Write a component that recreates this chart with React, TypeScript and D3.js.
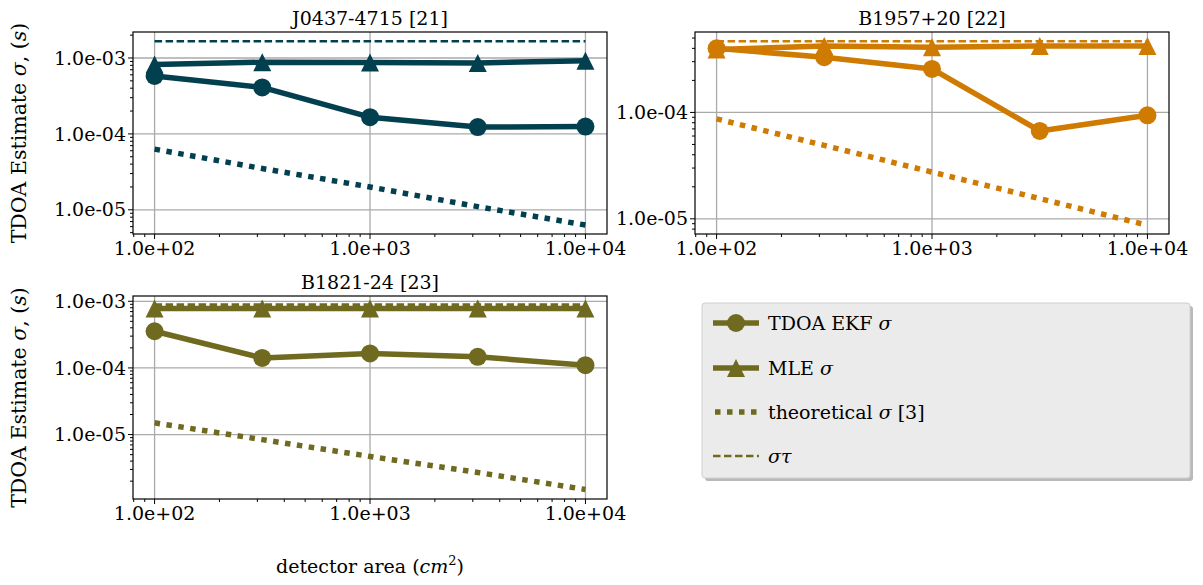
import React from 'react';
import * as d3 from 'd3';

const width = 1203;
const height = 585;
const font = '"DejaVu Serif", serif';
const fs = 19;

const teal = '#02404f';
const orange = '#cf7a00';
const olive = '#6f6a1f';

// detector areas (cm^2)
const areas = [100, 316, 1000, 3162, 10000];
const xDomain = [79.4, 12590];

// J0437-4715
const j0437Ekf = [5.8e-4, 4.1e-4, 1.66e-4, 1.23e-4, 1.25e-4];
const j0437Mle = [8.2e-4, 8.8e-4, 8.7e-4, 8.6e-4, 9.2e-4];
const j0437Theory = [6.3e-5, 3.5e-5, 2.0e-5, 1.1e-5, 6.3e-6];
const j0437Tau = [1.66e-3, 1.66e-3, 1.66e-3, 1.66e-3, 1.66e-3];

// B1957+20
const b1957Ekf = [4.0e-4, 3.3e-4, 2.56e-4, 6.7e-5, 9.4e-5];
const b1957Mle = [3.9e-4, 4.2e-4, 4.1e-4, 4.2e-4, 4.2e-4];
const b1957Theory = [8.7e-5, 4.9e-5, 2.75e-5, 1.55e-5, 8.7e-6];
const b1957Tau = [4.67e-4, 4.67e-4, 4.67e-4, 4.67e-4, 4.67e-4];

// B1821-24
const b1821Ekf = [3.55e-4, 1.41e-4, 1.65e-4, 1.47e-4, 1.1e-4];
const b1821Mle = [7.8e-4, 7.8e-4, 7.8e-4, 7.8e-4, 7.8e-4];
const b1821Theory = [1.5e-5, 8.4e-6, 4.7e-6, 2.7e-6, 1.5e-6];
const b1821Tau = [8.9e-4, 8.9e-4, 8.9e-4, 8.9e-4, 8.9e-4];

const legendLabels = ['TDOA EKF', 'MLE', 'theoretical', 'στ'];

const fmt = (v: number) => {
  const [m, e] = v.toExponential(1).split('e');
  const sign = e[0] === '-' ? '-' : '+';
  const digits = e.replace(/[+-]/, '').padStart(2, '0');
  return `${m}e${sign}${digits}`;
};

const isMajor = (v: number) => Math.abs(Math.log10(v) - Math.round(Math.log10(v))) < 1e-9;

const triangle = (cx: number, cy: number, s: number) =>
  `M${cx},${cy - s / 2}L${cx + s / 2},${cy + s / 2}L${cx - s / 2},${cy + s / 2}Z`;

const lw = 5.5;
const markerR = 9;
const triSize = 18;
const dotted = '5.5 6.5';
const dashed = '7.5 3.5';

function Panel(props: any) {
  const { title, color, ekf, mle, theory, tau, yDomain, left, top, w, h, yLabel } = props;
  const x = d3.scaleLog().domain(xDomain).range([left, left + w]);
  const y = d3.scaleLog().domain(yDomain).range([top + h, top]);
  const line = d3.line<number>().x((_, i) => x(areas[i])).y(d => y(d));
  const xt = x.ticks();
  const yt = y.ticks();
  const bottom = top + h;

  return (
    <g>
      {/* grid */}
      {xt.filter(isMajor).map(t => (
        <line key={'gx' + t} x1={x(t)} x2={x(t)} y1={top} y2={bottom} stroke="#aaaaaa" strokeWidth={1.3} />
      ))}
      {yt.filter(isMajor).map(t => (
        <line key={'gy' + t} x1={left} x2={left + w} y1={y(t)} y2={y(t)} stroke="#aaaaaa" strokeWidth={1.3} />
      ))}

      {/* EKF */}
      <path d={line(ekf) || ''} fill="none" stroke={color} strokeWidth={lw} strokeLinejoin="round" />
      {ekf.map((d: number, i: number) => (
        <circle key={'c' + i} cx={x(areas[i])} cy={y(d)} r={markerR} fill={color} />
      ))}
      {/* MLE */}
      <path d={line(mle) || ''} fill="none" stroke={color} strokeWidth={lw} strokeLinejoin="round" />
      {mle.map((d: number, i: number) => (
        <path key={'t' + i} d={triangle(x(areas[i]), y(d), triSize)} fill={color} />
      ))}
      {/* theoretical */}
      <path d={line(theory) || ''} fill="none" stroke={color} strokeWidth={lw} strokeDasharray={dotted} />
      {/* sigma tau */}
      <path d={line(tau) || ''} fill="none" stroke={color} strokeWidth={2.6} strokeDasharray={dashed} />

      {/* spines */}
      <rect x={left} y={top} width={w} height={h} fill="none" stroke="#000" strokeWidth={1.2} />

      {/* x ticks */}
      {xt.map(t => (
        <line key={'tx' + t} x1={x(t)} x2={x(t)} y1={bottom} y2={bottom + (isMajor(t) ? 5 : 3)} stroke="#000" strokeWidth={1} />
      ))}
      {xt.filter(isMajor).map(t => (
        <text key={'lx' + t} x={x(t)} y={bottom + 21} textAnchor="middle" fontFamily={font} fontSize={fs}>{fmt(t)}</text>
      ))}
      {/* y ticks */}
      {yt.map(t => (
        <line key={'ty' + t} x1={left} x2={left - (isMajor(t) ? 5 : 3)} y1={y(t)} y2={y(t)} stroke="#000" strokeWidth={1} />
      ))}
      {yt.filter(isMajor).map(t => (
        <text key={'ly' + t} x={left - 7} y={y(t)} dy="0.35em" textAnchor="end" fontFamily={font} fontSize={fs}>{fmt(t)}</text>
      ))}

      <text x={left + w / 2} y={top - 7} textAnchor="middle" fontFamily={font} fontSize={fs}>{title}</text>

      {yLabel && (
        <text transform={`translate(19,${top + h / 2}) rotate(-90)`} textAnchor="middle" dy="0.35em" fontFamily={font} fontSize={20.5}>
          TDOA Estimate <tspan fontStyle="italic">σ</tspan>, (<tspan fontStyle="italic">s</tspan>)
        </text>
      )}
    </g>
  );
}

function Legend() {
  const lx = 702, ly = 303, lwid = 488, lh = 175;
  const rows = [323, 368, 412, 456];
  const h0 = 713, h1 = 759, hc = (h0 + h1) / 2, tx = 768;
  return (
    <g>
      <rect x={lx + 3} y={ly + 3} width={lwid} height={lh} rx={3} fill="#8a8a8a" opacity={0.6} />
      <rect x={lx} y={ly} width={lwid} height={lh} rx={3} fill="#ebebeb" stroke="#d0d0d0" strokeWidth={1} />
      <line x1={h0} x2={h1} y1={rows[0]} y2={rows[0]} stroke={olive} strokeWidth={lw} />
      <circle cx={hc} cy={rows[0]} r={markerR} fill={olive} />
      <line x1={h0} x2={h1} y1={rows[1]} y2={rows[1]} stroke={olive} strokeWidth={lw} />
      <path d={triangle(hc, rows[1], triSize)} fill={olive} />
      <line x1={h0 + 2} x2={h1} y1={rows[2]} y2={rows[2]} stroke={olive} strokeWidth={lw} strokeDasharray={dotted} />
      <line x1={h0} x2={h1} y1={rows[3]} y2={rows[3]} stroke={olive} strokeWidth={2.6} strokeDasharray={dashed} />

      <text x={tx} y={rows[0]} dy="0.35em" fontFamily={font} fontSize={fs}>
        {legendLabels[0]} <tspan fontStyle="italic">σ</tspan>
      </text>
      <text x={tx} y={rows[1]} dy="0.35em" fontFamily={font} fontSize={fs}>
        {legendLabels[1]} <tspan fontStyle="italic">σ</tspan>
      </text>
      <text x={tx} y={rows[2]} dy="0.35em" fontFamily={font} fontSize={fs}>
        {legendLabels[2]} <tspan fontStyle="italic">σ</tspan> [3]
      </text>
      <text x={tx} y={rows[3]} dy="0.35em" fontFamily={font} fontSize={fs} fontStyle="italic">
        {legendLabels[3]}
      </text>
    </g>
  );
}

export default function App() {
  return (
    <svg width={width} height={height} style={{ position: 'absolute', left: 0, top: 0, background: '#fff' }}>
      <rect width={width} height={height} fill="#fff" />
      <Panel title="J0437-4715 [21]" color={teal} ekf={j0437Ekf} mle={j0437Mle} theory={j0437Theory} tau={j0437Tau}
        yDomain={[4.8e-6, 2.2e-3]} left={133} top={32} w={474} h={202} yLabel />
      <Panel title="B1957+20 [22]" color={orange} ekf={b1957Ekf} mle={b1957Mle} theory={b1957Theory} tau={b1957Tau}
        yDomain={[7.2e-6, 5.7e-4]} left={695} top={32} w={474} h={202} yLabel={false} />
      <Panel title="B1821-24 [23]" color={olive} ekf={b1821Ekf} mle={b1821Mle} theory={b1821Theory} tau={b1821Tau}
        yDomain={[1.08e-6, 1.2e-3]} left={133} top={296} w={474} h={203} yLabel />
      <Legend />
      <text x={370} y={573} textAnchor="middle" fontFamily={font} fontSize={fs}>
        detector area (<tspan fontStyle="italic">cm</tspan><tspan fontSize={13} dy={-8}>2</tspan><tspan dy={8}>)</tspan>
      </text>
    </svg>
  );
}
